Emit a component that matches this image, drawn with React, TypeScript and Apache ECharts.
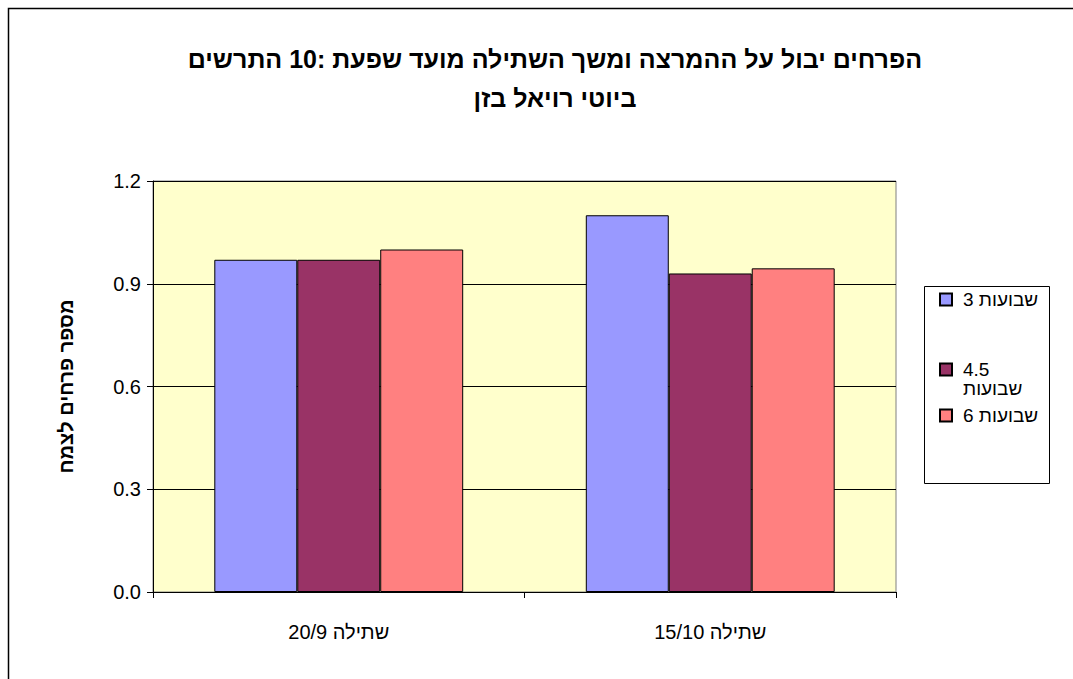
import React, { useEffect, useRef } from "react";
import * as echarts from "echarts";

const categories = ["שתילה 20/9", "שתילה 15/10"];
const seriesNames = ["3 שבועות", "4.5 שבועות", "6 שבועות"];
const weeks3 = [0.97, 1.1];
const weeks45 = [0.97, 0.93];
const weeks6 = [1.0, 0.945];
const yTicks = { min: 0, max: 1.2, interval: 0.3 };
const titleLine1 = ["התרשים", "10:", "שפעת", "מועד", "השתילה", "ומשך", "ההמרצה", "על", "יבול", "הפרחים"];
const titleLine2 = ["בזן", "רויאל", "ביוטי"];
const legendLabels = ["3 שבועות", " \n4.5\nשבועות", "6 שבועות"];
const yName = "מספר פרחים לצמח";
const colors = ["#9999FF", "#993366", "#FF8080"];

const FONT = 'Arial, "Liberation Sans", "DejaVu Sans", sans-serif';
const LRM = "\u200E";

export default function App() {
  const ref = useRef<HTMLDivElement>(null);
  useEffect(() => {
    if (!ref.current) return;
    const chart = echarts.init(ref.current, null, { renderer: "svg" });
    const values = [weeks3, weeks45, weeks6];
    // the original lays the title's words out left to right
    const ltrWords = (w: string[]) => LRM + w.join(" " + LRM);
    const labelOf = (name: string) => legendLabels[seriesNames.indexOf(name)];
    const legendText = {
      fontFamily: FONT,
      fontSize: 19,
      color: "#000",
      lineHeight: 19,
      padding: [0, 0, 0, 6],
    };
    const legendCommon = {
      orient: "vertical",
      left: 939,
      padding: 0,
      itemWidth: 12,
      itemHeight: 12,
      itemGap: 8,
      icon: "rect",
      selectedMode: false,
      textStyle: legendText,
      formatter: labelOf,
    };
    chart.setOption({
      animation: false,
      backgroundColor: "#ffffff",
      title: {
        text: ltrWords(titleLine1) + "\n" + ltrWords(titleLine2),
        left: 550,
        top: 34,
        textAlign: "center",
        textStyle: {
          fontFamily: FONT,
          fontWeight: "bold",
          fontSize: 25,
          lineHeight: 39,
          color: "#000",
        },
      },
      graphic: [
        {
          type: "rect",
          shape: { x: 8.5, y: 8.5, width: 1200, height: 800 },
          style: { fill: "none", stroke: "#000", lineWidth: 1.5 },
          silent: true,
        },
        {
          type: "rect",
          shape: { x: 924.5, y: 286.5, width: 125, height: 197 },
          style: { fill: "#ffffff", stroke: "#000", lineWidth: 1 },
          silent: true,
          z: -1,
        },
      ],
      legend: [
        { ...legendCommon, top: 290, data: [seriesNames[0]] },
        { ...legendCommon, top: 341, data: [seriesNames[1], seriesNames[2]] },
      ],
      grid: {
        left: 153,
        top: 181,
        width: 743,
        height: 411,
        show: true,
        backgroundColor: "#FFFFCC",
        borderColor: "#808080",
        borderWidth: 1,
      },
      xAxis: {
        type: "category",
        data: categories,
        axisLine: { lineStyle: { color: "#000", width: 1 } },
        axisTick: { show: true, length: 6, lineStyle: { color: "#000" } },
        axisLabel: {
          margin: 30,
          fontFamily: FONT,
          fontSize: 20,
          color: "#000",
        },
      },
      yAxis: {
        type: "value",
        min: yTicks.min,
        max: yTicks.max,
        interval: yTicks.interval,
        name: yName,
        nameLocation: "middle",
        nameGap: 77,
        nameRotate: 90,
        nameTextStyle: {
          fontFamily: FONT,
          fontWeight: "bold",
          fontSize: 20,
          color: "#000",
        },
        axisLine: { show: true, lineStyle: { color: "#000", width: 1 } },
        axisTick: { show: true, length: 6, lineStyle: { color: "#000" } },
        splitLine: { show: true, lineStyle: { color: "#000", width: 1 } },
        axisLabel: {
          margin: 12,
          fontFamily: FONT,
          fontSize: 20,
          color: "#000",
          formatter: (v: number) => v.toFixed(1),
        },
      },
      series: seriesNames.map((n, i) => ({
        name: n,
        type: "bar",
        data: values[i],
        barGap: "0%",
        barCategoryGap: "33%",
        itemStyle: { color: colors[i], borderColor: "#000", borderWidth: 1 },
      })),
    });
    return () => chart.dispose();
  }, []);
  return (
    <div
      ref={ref}
      style={{ position: "fixed", left: 0, top: 0, width: 1073, height: 679 }}
    />
  );
}
